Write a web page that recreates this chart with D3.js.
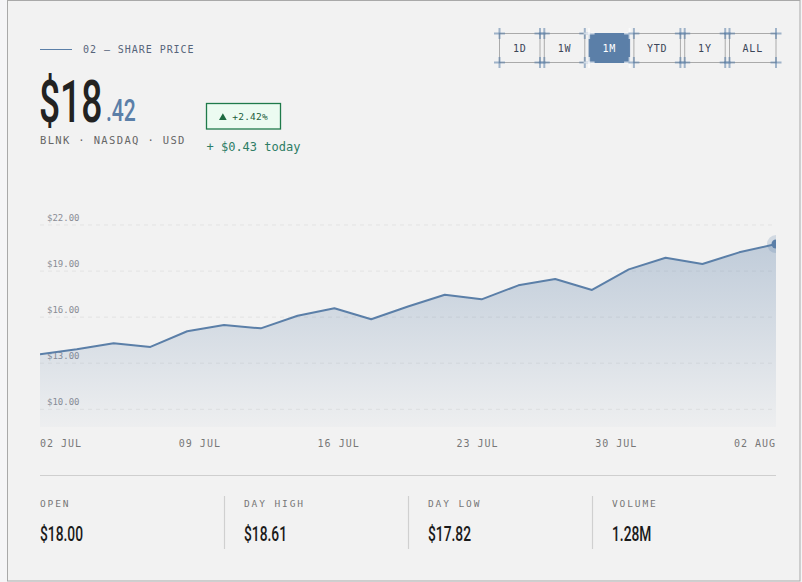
<!DOCTYPE html>
<html><head><meta charset="utf-8">
<script src="https://cdn.jsdelivr.net/npm/d3@7"></script>
<style>
html,body{margin:0;padding:0;background:#f5f5f7;}
svg{display:block}
</style></head><body>
<svg id="c" width="802" height="582"></svg>
<script>
// ---- data ----
const dates = ["07-02","07-03","07-05","07-08","07-09","07-10","07-11","07-12","07-15","07-16","07-17",
               "07-18","07-19","07-22","07-23","07-24","07-25","07-26","07-29","07-30","08-02"];
const prices = [13.58, 13.91, 14.30, 14.06, 15.08, 15.49, 15.27, 16.09, 16.58, 15.86, 16.69,
                17.46, 17.16, 18.07, 18.48, 17.77, 19.11, 19.87, 19.46, 20.22, 20.76];
const yTicks = [10, 13, 16, 19, 22];
const xTickLabels = ["02 JUL","09 JUL","16 JUL","23 JUL","30 JUL","02 AUG"];
const ranges = ["1D","1W","1M","YTD","1Y","ALL"];
const activeRange = "1M";
const statLabels = ["OPEN","DAY HIGH","DAY LOW","VOLUME"];
const statValues = ["$18.00","$18.61","$17.82","1.28M"];
const priceWhole = "$18", priceCents = ".42";
const ticker = "BLNK · NASDAQ · USD";
const changePct = "+2.42%", changeAbs = "+ $0.43 today";
const sectionTitle = "02 — SHARE PRICE";

// ---- layout ----
const MONO = "'DejaVu Sans Mono','Liberation Mono',monospace";
const COND = "Roboto, 'Liberation Sans', sans-serif";
const BLUE = "#5b7fa8";
const svg = d3.select("#c");
const L = 40, R = 776, plotTop = 190, plotBottom = 427;

// card
svg.append("rect").attr("x",7.5).attr("y",0.5).attr("width",792.5).attr("height",580.5)
  .attr("fill","#f2f2f2").attr("stroke","#a9a9a9").attr("stroke-width",1);

// section title
svg.append("line").attr("x1",L).attr("x2",72).attr("y1",49.5).attr("y2",49.5)
  .attr("stroke",BLUE).attr("stroke-width",1);
svg.append("text").attr("x",83).attr("y",49).attr("dominant-baseline","central")
  .attr("font-family",MONO).attr("font-size",10).attr("letter-spacing",0.95)
  .attr("fill","#56647a").text(sectionTitle);

// big price
svg.append("text").attr("transform","translate(39,121.5) scale(0.63,1)")
  .attr("font-family",COND).attr("font-weight",500).attr("font-size",59)
  .attr("fill","#222").text(priceWhole);
svg.append("text").attr("transform","translate(106,120.5) scale(0.66,1)")
  .attr("font-family",COND).attr("font-weight",500).attr("font-size",32)
  .attr("fill",BLUE).text(priceCents);

svg.append("text").attr("x",L).attr("y",140).attr("dominant-baseline","central")
  .attr("font-family",MONO).attr("font-size",10.5).attr("letter-spacing",1.35)
  .attr("fill","#666").text(ticker);

// badge
svg.append("rect").attr("x",206.5).attr("y",103.5).attr("width",74).attr("height",25.5)
  .attr("fill","#ecfbf1").attr("stroke","#1f7a4a").attr("stroke-width",1.3);
svg.append("path").attr("d","M219,120 L222.85,113.2 L226.7,120 Z").attr("fill","#1d6b40");
svg.append("text").attr("x",232.3).attr("y",116.5).attr("dominant-baseline","central")
  .attr("font-family",MONO).attr("font-size",9.5).attr("letter-spacing",0.2)
  .attr("fill","#1d5e3b").text(changePct);
svg.append("text").attr("x",206.5).attr("y",147).attr("dominant-baseline","central")
  .attr("font-family",MONO).attr("font-size",12)
  .attr("fill","#2e7d66").text(changeAbs);

// range buttons
const btnW = d => d.length > 2 ? 46.5 : 40.5, gap = 4.3, btnY = 33.5, btnH = 29;
let bx = R; const btnX = {};
ranges.slice().reverse().forEach(r => { bx -= btnW(r); btnX[r] = bx; bx -= gap; });
const btn = svg.append("g").selectAll("g").data(ranges).join("g")
  .attr("transform", d => `translate(${btnX[d]},${btnY})`);
btn.append("rect").attr("width",btnW).attr("height",btnH)
  .attr("fill", d => d === activeRange ? BLUE : "none")
  .attr("stroke", d => d === activeRange ? BLUE : "#aaa").attr("stroke-width",1);
btn.append("text").attr("x", d => btnW(d)/2).attr("y", btnH/2 + 0.5)
  .attr("text-anchor","middle").attr("dominant-baseline","central")
  .attr("font-family",MONO).attr("font-size",10).attr("letter-spacing",0.8)
  .attr("fill", d => d === activeRange ? "#fff" : "#3b4658").text(d => d);
btn.each(function(d){
  const g = d3.select(this), w = btnW(d), a = 5.5;
  const col = d === activeRange ? "rgba(255,255,255,0.65)" : "rgba(91,127,168,0.55)";
  [[0,0],[w,0],[0,btnH],[w,btnH]].forEach(([cx,cy]) => {
    g.append("line").attr("x1",cx-a).attr("x2",cx+a).attr("y1",cy).attr("y2",cy)
      .attr("stroke",col).attr("stroke-width",2);
    g.append("line").attr("x1",cx).attr("x2",cx).attr("y1",cy-a).attr("y2",cy+a)
      .attr("stroke",col).attr("stroke-width",2);
  });
});

// ---- chart ----
const x = d3.scalePoint().domain(dates).range([L, R]);
const y = d3.scaleLinear().domain([10, 22]).range([409.3, 225]);

const defs = svg.append("defs");
const grad = defs.append("linearGradient").attr("id","fillGrad")
  .attr("gradientUnits","userSpaceOnUse").attr("x1",0).attr("x2",0)
  .attr("y1", y(22)).attr("y2", plotBottom);
grad.append("stop").attr("offset","0%").attr("stop-color",BLUE).attr("stop-opacity",0.36);
grad.append("stop").attr("offset","100%").attr("stop-color",BLUE).attr("stop-opacity",0.03);
defs.append("clipPath").attr("id","plotClip").append("rect")
  .attr("x",L).attr("y",plotTop).attr("width",R-L).attr("height",plotBottom-plotTop);

// grid
const grid = svg.append("g");
grid.selectAll("line").data(yTicks).join("line")
  .attr("x1",L).attr("x2",R).attr("y1",d=>y(d)).attr("y2",d=>y(d))
  .attr("stroke","#e3e3e3").attr("stroke-dasharray","4,4").attr("stroke-width",1);

const plot = svg.append("g").attr("clip-path","url(#plotClip)");
plot.append("path").datum(prices)
  .attr("d", d3.area().x((d,i)=>x(dates[i])).y0(plotBottom).y1(d=>y(d)))
  .attr("fill","url(#fillGrad)");
plot.append("path").datum(prices)
  .attr("d", d3.line().x((d,i)=>x(dates[i])).y(d=>y(d)))
  .attr("fill","none").attr("stroke",BLUE).attr("stroke-width",2).attr("stroke-linejoin","round");
const last = prices.length - 1;
plot.append("circle").attr("cx",x(dates[last])).attr("cy",y(prices[last])).attr("r",9)
  .attr("fill",BLUE).attr("opacity",0.22);
plot.append("circle").attr("cx",x(dates[last])).attr("cy",y(prices[last])).attr("r",4.5)
  .attr("fill",BLUE);

grid.selectAll("text").data(yTicks).join("text")
  .attr("x",47).attr("y",d=>y(d)-7).attr("dominant-baseline","central")
  .attr("font-family",MONO).attr("font-size",9).attr("fill","#8a8d96")
  .text(d => "$" + d3.format(".2f")(d));

// x labels
const xl = d3.scalePoint().domain(xTickLabels).range([L, 734]);
svg.append("g").selectAll("text").data(xTickLabels).join("text")
  .attr("x", d => xl(d)).attr("y",443).attr("dominant-baseline","central")
  .attr("font-family",MONO).attr("font-size",10).attr("letter-spacing",1)
  .attr("fill","#777").text(d=>d);

// separator
svg.append("line").attr("x1",L).attr("x2",R).attr("y1",475.5).attr("y2",475.5)
  .attr("stroke","#cfcfcf").attr("stroke-width",1.2);

// stats
const sx = d3.scaleBand().domain(statLabels).range([L, R]);
const st = svg.append("g").selectAll("g").data(statLabels).join("g")
  .attr("transform", (d,i) => `translate(${sx(d)},0)`);
st.filter((d,i)=>i>0).append("line").attr("x1",0.5).attr("x2",0.5).attr("y1",496).attr("y2",549)
  .attr("stroke","#d0d0d0").attr("stroke-width",1.2);
st.append("text").attr("x",(d,i)=>i>0?20:0).attr("y",503.5).attr("dominant-baseline","central")
  .attr("font-family",MONO).attr("font-size",9.5).attr("letter-spacing",1.9)
  .attr("fill","#777").text(d=>d);
st.append("text").attr("transform",(d,i)=>`translate(${i>0?20:0},540.7) scale(0.69,1)`)
  .attr("font-family",COND).attr("font-weight",500).attr("font-size",20)
  .attr("fill","#1a1a1a").text((d,i)=>statValues[i]);
</script>
</body></html>
